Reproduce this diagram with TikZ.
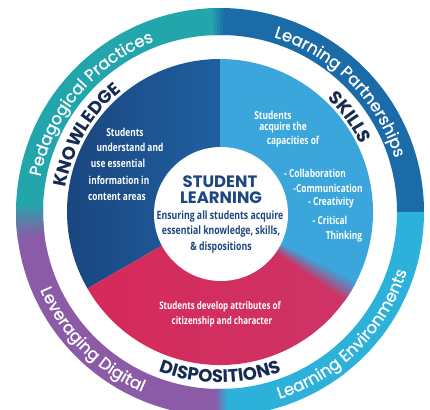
\documentclass[tikz,border=0pt]{standalone}
\usepackage{fontspec}
\setmainfont{Poppins}
\newfontfamily\ringfont[FakeBold=0.9]{Poppins}
\newfontfamily\condfont[FakeStretch=0.76]{Open Sans}
\usetikzlibrary{decorations.text}
\definecolor{ringTeal}{HTML}{22A5AB}
\definecolor{ringBlue}{HTML}{1B6BA8}
\definecolor{ringCyan}{HTML}{2CB1DA}
\definecolor{ringPurple}{HTML}{8C5BA8}
\definecolor{knowDark}{HTML}{1A4680}
\definecolor{knowLight}{HTML}{1F60A0}
\definecolor{skillBlue}{HTML}{3AA6DC}
\definecolor{dispRed}{HTML}{D5295A}
\definecolor{dispPink}{HTML}{CE3466}
\definecolor{labelNavy}{HTML}{172A52}
\definecolor{studentBlue}{HTML}{1C4780}
\newcommand\annseg[5]{\fill[#5] (#1:#3pt) arc[start angle=#1,end angle=#2,radius=#3pt] -- (#2:#4pt) arc[start angle=#2,end angle=#1,radius=#4pt] -- cycle;}
\tikzset{
  innertext/.style={text=white,font=\condfont\bfseries\fontsize{11}{13}\selectfont,inner sep=0pt},
  centertext/.style={text=studentBlue,font=\condfont\bfseries\fontsize{11.5}{13}\selectfont,inner sep=0pt},
  titletext/.style={text=studentBlue,font=\bfseries\fontsize{16.5}{16}\selectfont,inner sep=0pt}
}
\begin{document}
\begin{tikzpicture}[x=1pt,y=1pt]
\useasboundingbox (-220,-197) rectangle (210,212);
\clip (-220,-197) rectangle (210,212);
% outer ring quadrants
\annseg{0}{90}{177}{204}{ringBlue}
\annseg{90}{180}{177}{204}{ringTeal}
\annseg{180}{270}{177}{204}{ringPurple}
\annseg{270}{360}{177}{204}{ringCyan}
% blended transitions
\foreach \i in {0,...,9} {
  \pgfmathsetmacro\a{177+\i}
  \pgfmathsetmacro\b{178.4+\i}
  \pgfmathtruncatemacro\p{100-\i*10}
  \annseg{\a}{\b}{177}{204}{ringTeal!\p!ringPurple}
}
\foreach \i in {0,...,4} {
  \pgfmathsetmacro\a{88+\i}
  \pgfmathsetmacro\b{89.4+\i}
  \pgfmathtruncatemacro\p{100-\i*25}
  \annseg{\a}{\b}{177}{204}{ringBlue!\p!ringTeal}
}
\foreach \i in {0,...,4} {
  \pgfmathsetmacro\a{268+\i}
  \pgfmathsetmacro\b{269.4+\i}
  \pgfmathtruncatemacro\p{100-\i*25}
  \annseg{\a}{\b}{177}{204}{ringPurple!\p!ringCyan}
}
% inner disk
\shade[left color=knowDark,right color=knowLight] (0,0) -- (90:153pt) arc[start angle=90,end angle=210,radius=153pt] -- cycle;
\fill[skillBlue] (0,0) -- (-30:153pt) arc[start angle=-30,end angle=90,radius=153pt] -- cycle;
\shade[left color=dispRed,right color=dispPink] (0,0) -- (210:153pt) arc[start angle=210,end angle=330,radius=153pt] -- cycle;
\foreach \i in {0,...,7} {
  \pgfmathsetmacro\a{-36+\i}
  \pgfmathsetmacro\b{-34.6+\i}
  \pgfmathtruncatemacro\p{100-\i*12}
  \fill[dispPink!\p!skillBlue] (0,0) -- (\a:153pt) arc[start angle=\a,end angle=\b,radius=153pt] -- cycle;
}
\fill[white] (1,-2) circle (67pt);
% ring texts
\path[decorate,decoration={text along path,text align=center,
  text={|\ringfont\fontsize{16.5}{16}\selectfont\color{white}|Pedagogical Practices}}]
  (172:183pt) arc[start angle=172,end angle=108,radius=183pt];
\path[decorate,decoration={text along path,text align=center,
  text={|\ringfont\fontsize{16.5}{16}\selectfont\color{white}|Learning Partnerships}}]
  (77:183pt) arc[start angle=77,end angle=13,radius=183pt];
\path[decorate,decoration={text along path,text align=center,
  text={|\ringfont\fontsize{16.5}{16}\selectfont\color{white}|Learning Environments}}]
  (-77:196pt) arc[start angle=-77,end angle=-13,radius=196pt];
\path[decorate,decoration={text along path,text align=center,
  text={|\ringfont\fontsize{16.5}{16}\selectfont\color{white}|Leveraging Digital}}]
  (193:196pt) arc[start angle=193,end angle=257,radius=196pt];
% sector titles
\path[decorate,decoration={text along path,text align=center,
  text={|\bfseries\fontsize{18}{18}\selectfont\color{labelNavy}|KNOWLEDGE}}]
  (180:156pt) arc[start angle=180,end angle=120,radius=156pt];
\path[decorate,decoration={text along path,text align=center,
  text={|\bfseries\fontsize{18}{18}\selectfont\color{labelNavy}|SKILLS}}]
  (60:156pt) arc[start angle=60,end angle=12,radius=156pt];
\path[decorate,decoration={text along path,text align=center,
  text={|\bfseries\fontsize{18}{18}\selectfont\color{labelNavy}|DISPOSITIONS}}]
  (235:171pt) arc[start angle=235,end angle=305,radius=171pt];
% knowledge text
\node[innertext] (k1) at (-95,80) {Students};
\node[innertext] (k2) at (-90,65) {understand and};
\node[innertext] (k3) at (-102,49) {use essential};
\node[innertext] (k4) at (-101,32) {information in};
\node[innertext] (k5) at (-103,15) {content areas};
% skills text
\node[innertext] (s1) at (53,97) {Students};
\node[innertext] (s2) at (63,84) {acquire the};
\node[innertext] (s3) at (73,70) {capacities of};
\node[innertext] (s4) at (95,39) {- Collaboration};
\node[innertext] (s5) at (108,24) {-Communication};
\node[innertext] (s6) at (111,9) {- Creativity};
\node[innertext] (s7) at (110,-8) {- Critical};
\node[innertext] (s8) at (124,-25) {Thinking};
% dispositions text
\node[innertext,font=\condfont\bfseries\fontsize{10.5}{12}\selectfont] (d1) at (0,-95) {Students develop attributes of};
\node[innertext,font=\condfont\bfseries\fontsize{10.5}{12}\selectfont] (d2) at (2,-110) {citizenship and character};
% center
\node[titletext] (c1) at (0,30) {STUDENT};
\node[titletext] (c2) at (1,14) {LEARNING};
\node[centertext] (c3) at (0,-5) {Ensuring all students acquire};
\node[centertext] (c4) at (1,-20) {essential knowledge, skills,};
\node[centertext] (c5) at (1,-36) {\& dispositions};
\end{tikzpicture}
\end{document}
